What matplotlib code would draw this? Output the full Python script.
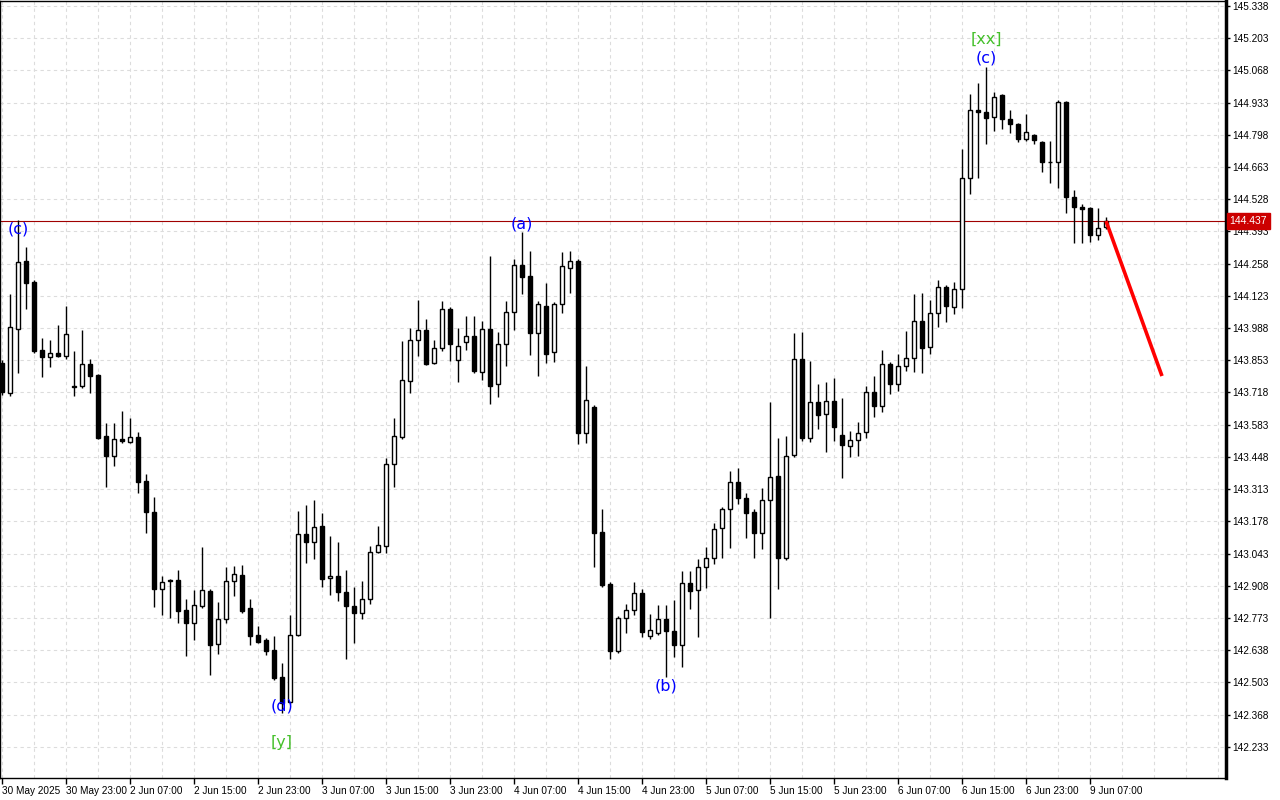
import matplotlib
matplotlib.use("Agg")
import matplotlib.pyplot as plt
import matplotlib.transforms as mtransforms
import numpy as np

# hourly USDJPY-style candles, 30 May 15:00 .. 9 Jun 09:00
opens = [
    143.841, 143.715, 143.984, 144.269, 144.181, 143.895, 143.866, 143.883, 143.870, 143.745,
    143.745, 143.837, 143.791, 143.535, 143.451, 143.523, 143.510, 143.531, 143.347, 143.217,
    142.894, 142.932, 142.932, 142.806, 142.752, 142.823, 142.886, 142.664, 142.768, 142.928,
    142.953, 142.814, 142.701, 142.680, 142.638, 142.525, 142.421, 142.701, 143.124, 143.091,
    143.158, 142.940, 142.949, 142.882, 142.823, 142.793, 142.852, 143.049, 143.074, 143.418,
    143.531, 143.766, 143.937, 143.979, 143.841, 143.904, 144.067, 143.854, 143.929, 143.954,
    143.803, 143.984, 143.753, 143.921, 144.055, 144.252, 144.206, 143.967, 144.080, 143.887,
    144.088, 144.240, 144.269, 143.548, 143.657, 143.133, 142.915, 142.634, 142.773, 142.806,
    142.877, 142.697, 142.710, 142.768, 142.718, 142.659, 142.919, 142.890, 142.986, 143.024,
    143.150, 143.229, 143.342, 143.275, 143.217, 143.129, 143.267, 143.367, 143.024, 143.456,
    143.858, 143.527, 143.677, 143.627, 143.682, 143.539, 143.493, 143.518, 143.552, 143.719,
    143.661, 143.837, 143.753, 143.829, 143.862, 144.017, 143.908, 144.050, 144.160, 144.076,
    144.151, 144.617, 144.902, 144.893, 144.873, 144.965, 144.864, 144.843, 144.780, 144.797,
    144.768, 144.684, 144.684, 144.935, 144.537, 144.495, 144.491, 144.378, 144.411,
]
highs = [
    143.854, 144.131, 144.441, 144.328, 144.189, 143.946, 143.937, 144.000, 144.080, 143.891,
    143.979, 143.858, 143.795, 143.590, 143.590, 143.640, 143.611, 143.552, 143.376, 143.279,
    142.949, 142.936, 142.974, 142.852, 142.890, 143.070, 142.894, 142.840, 142.986, 142.991,
    142.995, 142.852, 142.739, 142.689, 142.697, 142.584, 142.785, 143.221, 143.246, 143.267,
    143.212, 143.116, 143.091, 142.974, 142.903, 142.928, 143.074, 143.158, 143.443, 143.611,
    143.933, 143.987, 144.105, 144.025, 143.937, 144.101, 144.076, 143.987, 144.038, 144.038,
    144.017, 144.290, 143.971, 144.101, 144.277, 144.390, 144.311, 144.101, 144.177, 144.097,
    144.307, 144.311, 144.277, 143.828, 143.665, 143.229, 142.923, 142.781, 142.831, 142.923,
    142.894, 142.789, 142.827, 142.827, 142.848, 142.969, 142.969, 143.019, 143.070, 143.171,
    143.238, 143.388, 143.401, 143.296, 143.229, 143.317, 143.677, 143.527, 143.535, 143.967,
    143.971, 143.850, 143.753, 143.761, 143.778, 143.694, 143.556, 143.594, 143.745, 143.787,
    143.895, 143.845, 143.879, 143.975, 144.131, 144.135, 144.105, 144.189, 144.168, 144.181,
    144.738, 144.969, 145.015, 145.082, 144.977, 144.969, 144.902, 144.847, 144.885, 144.801,
    144.772, 144.772, 144.944, 144.940, 144.567, 144.508, 144.495, 144.491, 144.453,
]
lows = [
    143.707, 143.703, 143.799, 144.067, 143.883, 143.782, 143.824, 143.866, 143.858, 143.703,
    143.736, 143.715, 143.523, 143.321, 143.409, 143.506, 143.506, 143.296, 143.129, 142.819,
    142.785, 142.773, 142.752, 142.613, 142.680, 142.814, 142.534, 142.622, 142.752, 142.865,
    142.793, 142.659, 142.668, 142.617, 142.513, 142.375, 142.412, 142.697, 143.003, 143.019,
    142.903, 142.869, 142.844, 142.601, 142.668, 142.768, 142.831, 143.045, 143.045, 143.321,
    143.523, 143.715, 143.870, 143.833, 143.837, 143.891, 143.849, 143.761, 143.895, 143.799,
    143.770, 143.669, 143.699, 143.828, 143.979, 144.131, 143.875, 143.787, 143.841, 143.845,
    144.050, 144.135, 143.502, 143.506, 142.986, 142.903, 142.601, 142.626, 142.710, 142.785,
    142.693, 142.684, 142.701, 142.525, 142.609, 142.567, 142.810, 142.693, 142.898, 142.999,
    143.024, 143.066, 143.250, 143.108, 143.024, 143.062, 142.773, 142.894, 143.015, 143.447,
    143.514, 143.510, 143.565, 143.468, 143.514, 143.359, 143.447, 143.451, 143.527, 143.615,
    143.636, 143.711, 143.724, 143.808, 143.804, 143.799, 143.879, 143.992, 144.013, 144.046,
    144.072, 144.550, 144.617, 144.759, 144.814, 144.822, 144.805, 144.768, 144.772, 144.759,
    144.642, 144.596, 144.575, 144.470, 144.344, 144.344, 144.349, 144.357, 144.403,
]
closes = [
    143.719, 143.992, 144.265, 144.177, 143.891, 143.866, 143.883, 143.870, 143.962, 143.740,
    143.837, 143.786, 143.527, 143.451, 143.523, 143.514, 143.531, 143.342, 143.217, 142.894,
    142.923, 142.928, 142.802, 142.752, 142.827, 142.890, 142.659, 142.768, 142.928, 142.957,
    142.802, 142.697, 142.672, 142.634, 142.521, 142.417, 142.701, 143.124, 143.091, 143.154,
    142.936, 142.949, 142.882, 142.823, 142.793, 142.852, 143.049, 143.078, 143.418, 143.535,
    143.770, 143.937, 143.979, 143.837, 143.904, 144.067, 143.921, 143.912, 143.954, 143.807,
    143.984, 143.745, 143.921, 144.055, 144.252, 144.202, 143.967, 144.088, 143.879, 144.088,
    144.248, 144.269, 143.548, 143.686, 143.129, 142.911, 142.634, 142.773, 142.806, 142.877,
    142.714, 142.722, 142.768, 142.718, 142.659, 142.919, 142.886, 142.986, 143.024, 143.145,
    143.229, 143.342, 143.275, 143.212, 143.129, 143.267, 143.363, 143.024, 143.451, 143.858,
    143.527, 143.677, 143.623, 143.682, 143.572, 143.497, 143.518, 143.548, 143.719, 143.661,
    143.837, 143.753, 143.829, 143.862, 144.017, 143.904, 144.050, 144.160, 144.080, 144.151,
    144.617, 144.902, 144.893, 144.868, 144.956, 144.864, 144.843, 144.780, 144.810, 144.776,
    144.684, 144.684, 144.935, 144.537, 144.495, 144.487, 144.378, 144.407, 144.437,
]

time_labels = ["30 May 2025", "30 May 23:00", "2 Jun 07:00", "2 Jun 15:00", "2 Jun 23:00",
               "3 Jun 07:00", "3 Jun 15:00", "3 Jun 23:00", "4 Jun 07:00", "4 Jun 15:00",
               "4 Jun 23:00", "5 Jun 07:00", "5 Jun 15:00", "5 Jun 23:00", "6 Jun 07:00",
               "6 Jun 15:00", "6 Jun 23:00", "9 Jun 07:00"]
price_ticks = [145.338, 145.203, 145.068, 144.933, 144.798, 144.663, 144.528, 144.393,
               144.258, 144.123, 143.988, 143.853, 143.718, 143.583, 143.448, 143.313,
               143.178, 143.043, 142.908, 142.773, 142.638, 142.503, 142.368, 142.233]
last_price = 144.437

# forecast arrow (bar index, price)
forecast_bars = [138, 145]
forecast_prices = [144.437, 143.787]

# wave marks: bar, text, anchored at high/low, colour, offset in points
waves = [
    (2, "(c)", "high", "#0000ff", -6.5),
    (35, "(d)", "low", "#0000ff", 5),
    (35, "[y]", "low", "#44c02a", -21),
    (65, "(a)", "high", "#0000ff", 6),
    (83, "(b)", "low", "#0000ff", -6.5),
    (123, "(c)", "high", "#0000ff", 6.5),
    (123, "[xx]", "high", "#44c02a", 20),
]

n = len(closes)
x = np.arange(n)
o = np.array(opens); c = np.array(closes)
h = np.array(highs); l = np.array(lows)

fig = plt.figure(figsize=(12.8, 8), dpi=100)
ax = fig.add_axes([0, 22 / 800, 1226 / 1280, 777 / 800])

# grid
for p in price_ticks:
    ax.axhline(p, color="#dcdcdc", lw=0.8, ls=(0, (3, 3)), zorder=0)
for b in range(0, 154, 4):
    ax.axvline(b, color="#dcdcdc", lw=0.8, ls=(0, (3, 3)), zorder=0)

# candles
ax.vlines(x, l, h, color="black", lw=1, zorder=2)
bull = c >= o
face = np.where(bull, "white", "black")
bottom = np.minimum(o, c)
height = np.abs(c - o)
ax.bar(x, height, bottom=bottom, width=0.6, color=face, edgecolor="black",
       linewidth=1, zorder=3)

# current price line
ax.axhline(last_price, color="#a00000", lw=0.8, zorder=1)

# forecast
ax.plot(forecast_bars, forecast_prices, color="#ff0000", lw=2.6, zorder=4,
        solid_capstyle="butt")

# wave labels
for b, txt, side, col, off in waves:
    yv = h[b] if side == "high" else l[b]
    ax.annotate(txt, (b, yv), xytext=(0, off), textcoords="offset points",
                ha="center", va="center", color=col, fontsize=11.5,
                family="DejaVu Sans", zorder=5)

ax.set_xlim(-0.25, 153)
ax.set_ylim(142.102, 145.359)

# axes look
ax.yaxis.tick_right()
ax.set_yticks(price_ticks)
ax.set_yticklabels(["%.3f" % p for p in price_ticks], fontsize=7.2,
                   family="Liberation Sans")
ax.tick_params(axis="y", direction="out", length=3, width=1, pad=1.5)
ax.set_xticks(range(0, n, 8))
ax.set_xticklabels(time_labels, fontsize=7.2, family="Liberation Sans", ha="left")
ax.tick_params(axis="x", direction="out", length=4, width=1, pad=1.5)
ax.spines["right"].set_linewidth(2.5)
ax.spines["bottom"].set_linewidth(1)
ax.spines["left"].set_linewidth(1)
ax.spines["top"].set_linewidth(1)

# price tag on axis
trans = mtransforms.blended_transform_factory(ax.transAxes, ax.transData)
ax.text(1.003, last_price, "144.437", transform=trans, ha="left", va="center",
        fontsize=7.5, family="Liberation Sans", color="white", zorder=6,
        bbox=dict(boxstyle="square,pad=0.25", facecolor="#cc0000",
                  edgecolor="#cc0000"), clip_on=False)

fig.savefig("out.png", dpi=100, facecolor="white")
